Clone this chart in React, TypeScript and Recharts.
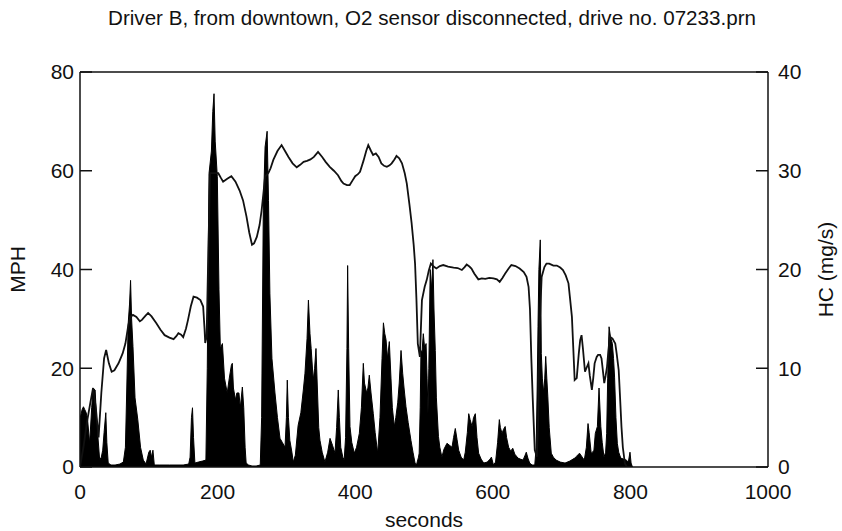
import React from 'react';
import {
  ComposedChart,
  Line,
  Area,
  XAxis,
  YAxis,
  ReferenceLine,
} from 'recharts';

// Vehicle speed (MPH) sampled from the trace, seconds -> mph
const speedSeconds = [
  0, 5, 10, 15, 19, 23, 27, 31, 35, 38, 42, 46, 50, 56, 62, 66, 70, 73, 77, 82,
  87, 90, 95, 99, 104, 111, 117, 123, 130, 136, 140, 143, 147, 150, 154, 157, 161, 165, 170, 175,
  179, 181, 182, 184, 186, 189, 195, 201, 205, 208, 214, 220, 226, 232, 237, 242, 246, 250, 253, 257,
  261, 264, 267, 269, 274, 277, 281, 287, 293, 298, 303, 309, 315, 320, 325, 330, 335, 340, 346, 352,
  357, 363, 369, 375, 380, 383, 388, 392, 396, 400, 404, 407, 412, 416, 419, 423, 426, 430, 434, 438,
  442, 446, 450, 453, 457, 460, 464, 468, 472, 475, 479, 482, 485, 487, 489, 491, 494, 496, 497, 501,
  504, 507, 510, 514, 518, 523, 528, 535, 543, 549, 555, 559, 562, 566, 569, 573, 579, 584, 589, 595,
  601, 606, 610, 614, 618, 623, 627, 633, 639, 645, 649, 652, 654, 656, 658, 661, 664, 666, 668, 671,
  675, 678, 682, 688, 693, 698, 702, 706, 710, 712, 715, 717, 719, 722, 725, 727, 729, 731, 734, 736,
  739, 741, 744, 746, 748, 751, 753, 756, 758, 760, 762, 764, 766, 768, 770, 774, 778, 780, 783, 785,
  787, 789, 792, 795, 800,
];
const speedMph = [
  0, 4, 9, 13, 16, 12, 6, 15, 22, 23.7, 21, 19.3, 19.6, 21, 23, 25, 28.5, 30.4, 30.8, 30.4,
  29.5, 29.8, 30.6, 31.2, 30.5, 29.1, 27.8, 26.7, 26.2, 25.9, 26.5, 27.1, 26.8, 26.3, 28, 29.8, 32.5, 34.5, 34.3, 33.8,
  32.5, 28, 25.1, 26.4, 40, 59.5, 59.5, 59.5, 58.5, 57.8, 58.4, 58.9, 57.8, 56, 54, 50.7, 47.5, 45, 45.3, 46.6,
  49, 52, 56, 58.8, 59.6, 60.5, 62.2, 64, 65.2, 64, 62.8, 61.5, 60.7, 61.2, 61.8, 62, 62.3, 62.8, 63.8, 62.8,
  61.8, 60.8, 60, 59.1, 57.9, 57.4, 57.1, 57.1, 58, 58.9, 59.3, 59.8, 62, 64, 65.2, 64, 63.2, 63.5, 62.8, 61.5,
  61, 60.8, 61.1, 61.5, 62.3, 63, 62.5, 61.5, 59.5, 57.4, 53, 49.4, 45, 41.2, 34, 25, 22.3, 30, 33.8, 36.5,
  37.9, 39.8, 41.2, 40.6, 40.2, 40.7, 40.9, 40.6, 40.4, 40.3, 39.9, 40.5, 41, 40.6, 40.2, 39.2, 38, 38.2, 38.1, 38.3,
  38.2, 38, 37.5, 38.3, 39.2, 40.2, 40.9, 40.7, 40.2, 39.5, 38.5, 36.5, 32, 22, 14, 3.4, 2.1, 10, 28, 38.5,
  40.5, 41.2, 41.2, 40.8, 40.8, 40.4, 39.9, 38.8, 37.2, 34.5, 30.4, 24, 17.6, 18, 23, 25.7, 26.7, 24, 19.3, 20,
  21, 18.5, 15.6, 18, 21, 22.3, 22.7, 22.7, 22, 19.5, 17, 18.5, 20.3, 23.5, 26.4, 26, 25, 23, 19.6, 14,
  8.2, 4, 0.7, 0, 0,
];

// Hydrocarbon emissions (mg/s), seconds -> mg/s
const hcSeconds = [
  0, 3, 5, 7, 9, 11, 14, 17, 19, 22, 24, 26, 28.6, 31, 33, 35, 37.5, 39, 41, 45,
  51, 58, 63, 66, 68, 70, 72, 73.5, 75, 77, 80, 84, 88, 92, 96, 100, 102, 104, 106, 108,
  115, 130, 150, 158, 160, 162, 163.5, 165, 167, 172, 178, 183, 185, 187.5, 191, 193, 194.8, 196.5, 199.6, 202,
  204, 207, 210, 214, 217, 220, 221.4, 223, 226, 228, 231, 233, 236, 238, 240, 241.5, 245, 250, 256, 262,
  264, 266.4, 269, 272, 274, 276, 279, 283.4, 287, 290.7, 294, 298, 300, 301.3, 303, 305, 308, 310, 313, 317,
  321, 324.6, 327, 330, 332, 334.3, 336, 339, 341, 343, 345, 347, 348.8, 352, 356, 360, 363.4, 367, 370.6, 373,
  375.4, 377, 379, 382, 384, 386, 388, 389, 390.5, 392.4, 395, 398.7, 402, 406, 409, 411.8, 413.5, 416.7, 418.5, 420.5,
  423, 426.3, 429, 432.7, 436, 439, 441, 443, 444.8, 447, 449.6, 452, 454, 456.9, 459, 461.8, 464, 466.6, 469, 471,
  473.8, 477, 481, 484, 487, 489, 492, 493, 494.5, 495.6, 497, 499, 501, 503, 504.5, 505.8, 507, 509, 511, 513,
  514.5, 516.4, 518, 521, 523, 526, 529, 533.4, 537, 540.7, 543, 545.5, 548, 550.4, 554, 557.7, 560, 563, 565, 567,
  569.8, 572, 574.6, 577, 579.4, 583, 586.8, 592, 596, 598, 601, 604, 607, 609.5, 611, 613.4, 615.5, 618, 620, 623,
  626, 629, 632, 636.6, 640, 644, 647, 648.7, 651, 653.6, 657, 661, 663, 664.5, 665.7, 667, 669, 670, 670.5, 672,
  674, 675.5, 676.9, 678.5, 680, 682, 685, 688, 692, 698, 705, 712, 719, 722, 726, 730, 733, 736, 738.4, 740,
  743, 745, 747, 749, 752, 754.4, 757, 759, 761.6, 764, 765.5, 767, 769, 771, 773.8, 775.5, 777, 779, 781, 783,
  786, 790, 794, 797, 799.4, 801, 803,
];
const hcMgs = [
  4.9, 5.8, 6.1, 5.8, 5.5, 4.8, 2.4, 6, 8, 7.8, 5, 3.1, 0.7, 1, 1.7, 3.5, 5.5, 2.5, 0.4, 0.2,
  0.2, 0.3, 0.5, 2, 8, 14.5, 16.5, 18.9, 15, 12.2, 7, 4.8, 2, 0.7, 0.3, 1.5, 1.7, 1, 1.7, 0.2,
  0.2, 0.2, 0.2, 0.3, 1, 5, 6, 3, 0.4, 0.5, 0.6, 0.7, 10, 29.7, 32, 36, 37.8, 33, 29.4, 18,
  12, 12.5, 9, 7.5, 9, 10.3, 10.5, 8, 6.8, 7.5, 7.5, 6, 8.1, 6, 2, 0.4, 0.2, 0.1, 0.1, 0.2,
  5, 26, 32.4, 34, 27, 17.6, 11, 7.5, 5, 2.9, 2.5, 2, 5, 8.8, 5, 2.7, 1.5, 0.5, 1.2, 4.2,
  5.5, 7.8, 9.5, 13, 16.9, 13.5, 12, 8.8, 10, 12, 8, 4, 2.7, 1.5, 0.5, 1.5, 2.9, 2.2, 1.4, 4,
  7.8, 5, 2, 1, 0.7, 3, 12, 20.4, 12, 4.1, 2.5, 1.4, 2, 3.4, 6, 10.5, 8.5, 7.5, 8, 9.3,
  7.5, 5.4, 3.5, 1.4, 5, 11, 14.6, 13.5, 12.9, 11, 12.7, 9, 6, 4.1, 5, 6.5, 8.5, 11.8, 9.5, 8,
  6.1, 4.5, 2.7, 1.5, 0.4, 0.2, 1, 1.4, 6, 11.8, 11.5, 13.5, 12, 12.5, 9, 5.4, 10, 20, 18, 21,
  16, 11.8, 7, 3.1, 2, 1, 1.8, 2.4, 2.2, 2, 3, 3.9, 2.8, 1.7, 1, 0.7, 1.5, 3.5, 5.4, 4.8,
  4.1, 5, 5.4, 3, 1.4, 0.8, 0.4, 0.5, 0.8, 1, 0.2, 0.5, 2.5, 4.8, 4, 3.4, 3.8, 4.1, 3, 2,
  1.6, 1.9, 1.3, 0.9, 0.8, 0.7, 1.2, 1.5, 0.9, 0.4, 0.2, 0.2, 2, 8, 14.2, 20, 23, 16, 11.5, 9,
  7.5, 9, 11.2, 9, 7.1, 4, 1.4, 1, 0.7, 0.5, 0.4, 0.6, 0.9, 1.1, 1.4, 1, 0.7, 2, 4.4, 3.5,
  1.4, 1.5, 1.7, 3.4, 4.1, 8, 4.1, 2.5, 1, 1.5, 3.4, 9, 14.2, 13.2, 12.5, 11, 9.1, 5, 2.4, 1.5,
  0.9, 0.8, 0.7, 0.5, 1.5, 0.4, 0,
];

const xTicks = [0, 200, 400, 600, 800, 1000];
const mphTicks = [0, 20, 40, 60, 80];
const hcTicks = [0, 10, 20, 30, 40];

const speedData = speedSeconds.map((t, i) => ({ t, mph: speedMph[i] }));
const hcData = hcSeconds.map((t, i) => ({ t, hc: hcMgs[i] }));

const FONT = '"Liberation Sans", Arial, sans-serif';
const INK = '#111';
const tickStyle = { fontSize: 21, fill: INK, fontFamily: FONT };

export default function App() {
  return (
    <div style={{ position: 'absolute', left: 0, top: 0, width: 842, height: 531, background: '#fff' }}>
      <div
        style={{
          position: 'absolute',
          top: 6,
          left: 432,
          transform: 'translateX(-50%)',
          whiteSpace: 'nowrap',
          fontFamily: FONT,
          fontSize: 20.6,
          lineHeight: '24px',
          color: INK,
        }}
      >
        Driver B, from downtown, O2 sensor disconnected, drive no. 07233.prn
      </div>
      <ComposedChart
        width={842}
        height={531}
        margin={{ top: 72, right: 0, bottom: 0, left: 0 }}
        style={{ fontFamily: FONT }}
      >
        <XAxis
          dataKey="t"
          type="number"
          domain={[0, 1000]}
          ticks={xTicks}
          allowDataOverflow
          height={64}
          tickLine={false}
          tickSize={0}
          tickMargin={17}
          axisLine={{ stroke: INK, strokeWidth: 1.5 }}
          tick={tickStyle}
          label={{ value: 'seconds', position: 'insideBottom', offset: 4, fontSize: 21, fill: INK }}
        />
        <YAxis
          yAxisId="mph"
          orientation="left"
          width={80}
          domain={[0, 80]}
          ticks={mphTicks}
          allowDataOverflow
          tickSize={-12}
          tickMargin={18}
          tickLine={{ stroke: INK, strokeWidth: 1.5 }}
          axisLine={{ stroke: INK, strokeWidth: 1.5 }}
          tick={tickStyle}
          label={{ value: 'MPH', angle: -90, position: 'center', dx: -22, fontSize: 21, fill: INK }}
        />
        <YAxis
          yAxisId="hc"
          orientation="right"
          width={74}
          domain={[0, 40]}
          ticks={hcTicks}
          allowDataOverflow
          tickSize={-12}
          tickMargin={22}
          tickLine={{ stroke: INK, strokeWidth: 1.5 }}
          axisLine={{ stroke: INK, strokeWidth: 1.5 }}
          tick={tickStyle}
          label={{ value: 'HC (mg/s)', angle: -90, position: 'center', dx: 21, fontSize: 21, fill: INK }}
        />
        <ReferenceLine yAxisId="mph" y={80} stroke={INK} strokeWidth={1.5} />
        <Area
          yAxisId="hc"
          data={hcData}
          dataKey="hc"
          type="linear"
          stroke="#000"
          strokeWidth={1}
          fill="#000"
          fillOpacity={1}
          isAnimationActive={false}
          dot={false}
          activeDot={false}
        />
        <Line
          yAxisId="mph"
          data={speedData}
          dataKey="mph"
          type="linear"
          stroke={INK}
          strokeWidth={1.8}
          dot={false}
          activeDot={false}
          isAnimationActive={false}
        />
      </ComposedChart>
    </div>
  );
}
